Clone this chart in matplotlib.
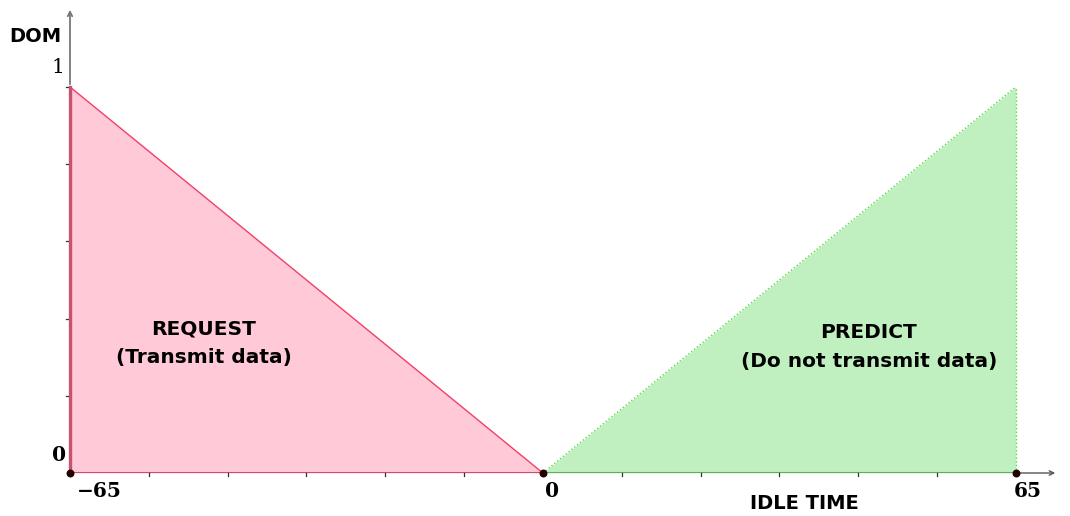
import matplotlib.pyplot as plt
import numpy as np

# membership functions (DOM vs idle time)
request_x = [-65, 0]
request_dom = [1, 0]
predict_x = [0, 65]
predict_dom = [0, 1]
key_points = [-65, 0, 65]
x_tick_labels = ['\u221265', '0', '65']
y_tick_labels = ['0', '1']

fig = plt.figure(figsize=(10.7, 5.16), dpi=100)
ax = fig.add_axes([70 / 1070, 43 / 516, 988 / 1070, 466 / 516])
ax.set_xlim(-65, 70.8)
ax.set_ylim(0, 1.207)
ax.axis('off')

# filled triangles
ax.fill_between(request_x, request_dom, 0, color='#ffc9d7', lw=0)
ax.plot(request_x, request_dom, color='#f0406a', lw=1)
ax.plot([-65, -65], [0, 1], color='#c85070', lw=2.4, clip_on=False, zorder=3)
ax.plot(request_x, [0, 0], color='#c85070', lw=2.2)

ax.fill_between(predict_x, predict_dom, 0, color='#c0f0c0', lw=0)
ax.plot(predict_x, predict_dom, color='#55dd44', lw=1, ls=':')
ax.plot([65, 65], [0, 1], color='#55dd44', lw=1, ls=':')
ax.plot(predict_x, [0, 0], color='#66aa66', lw=1.5)

# axes with arrows
ax.annotate('', xy=(70.8, 0), xytext=(65, 0),
            arrowprops=dict(arrowstyle='->', color='#555555', lw=1, mutation_scale=8),
            annotation_clip=False)
ax.annotate('', xy=(-65, 1.207), xytext=(-65, 1.0),
            arrowprops=dict(arrowstyle='->', color='#777777', lw=1.3, mutation_scale=8),
            annotation_clip=False)

# minor ticks
for xt in np.linspace(-65, 65, 13):
    ax.plot([xt, xt], [0, -0.008], color='#333333', lw=0.9, clip_on=False)
for yt in [0.2, 0.4, 0.6, 0.8, 1.0]:
    ax.plot([-65, -65.6], [yt, yt], color='#333333', lw=0.9, clip_on=False)

ax.scatter(key_points, [0, 0, 0], s=22, color='#220000', zorder=5, clip_on=False)

# tick labels
for xv, lab, dx in zip(key_points, x_tick_labels, [4.0, 1.2, 1.6]):
    ax.text(xv + dx, -0.047, lab, ha='center', va='center', fontsize=14.5,
            family='DejaVu Serif', weight='bold')
ax.text(-66.5, 0.047, y_tick_labels[0], ha='center', va='center', fontsize=14.5,
        family='DejaVu Serif', weight='bold')
ax.text(-66.6, 1.05, y_tick_labels[1], ha='center', va='center', fontsize=14.5,
        family='DejaVu Serif')

# axis labels
ax.text(-69.7, 1.13, 'DOM', ha='center', va='center', fontsize=14, weight='bold')
ax.text(36, -0.078, 'IDLE TIME', ha='center', va='center', fontsize=14, weight='bold')

# region labels
ax.text(-46.6, 0.373, 'REQUEST', ha='center', va='center', fontsize=14.5, weight='bold')
ax.text(-46.6, 0.298, '(Transmit data)', ha='center', va='center', fontsize=14.5, weight='bold')
ax.text(44.8, 0.363, 'PREDICT', ha='center', va='center', fontsize=14.5, weight='bold')
ax.text(44.8, 0.288, '(Do not transmit data)', ha='center', va='center', fontsize=14.5, weight='bold')

fig.savefig('out.png', dpi=100)
